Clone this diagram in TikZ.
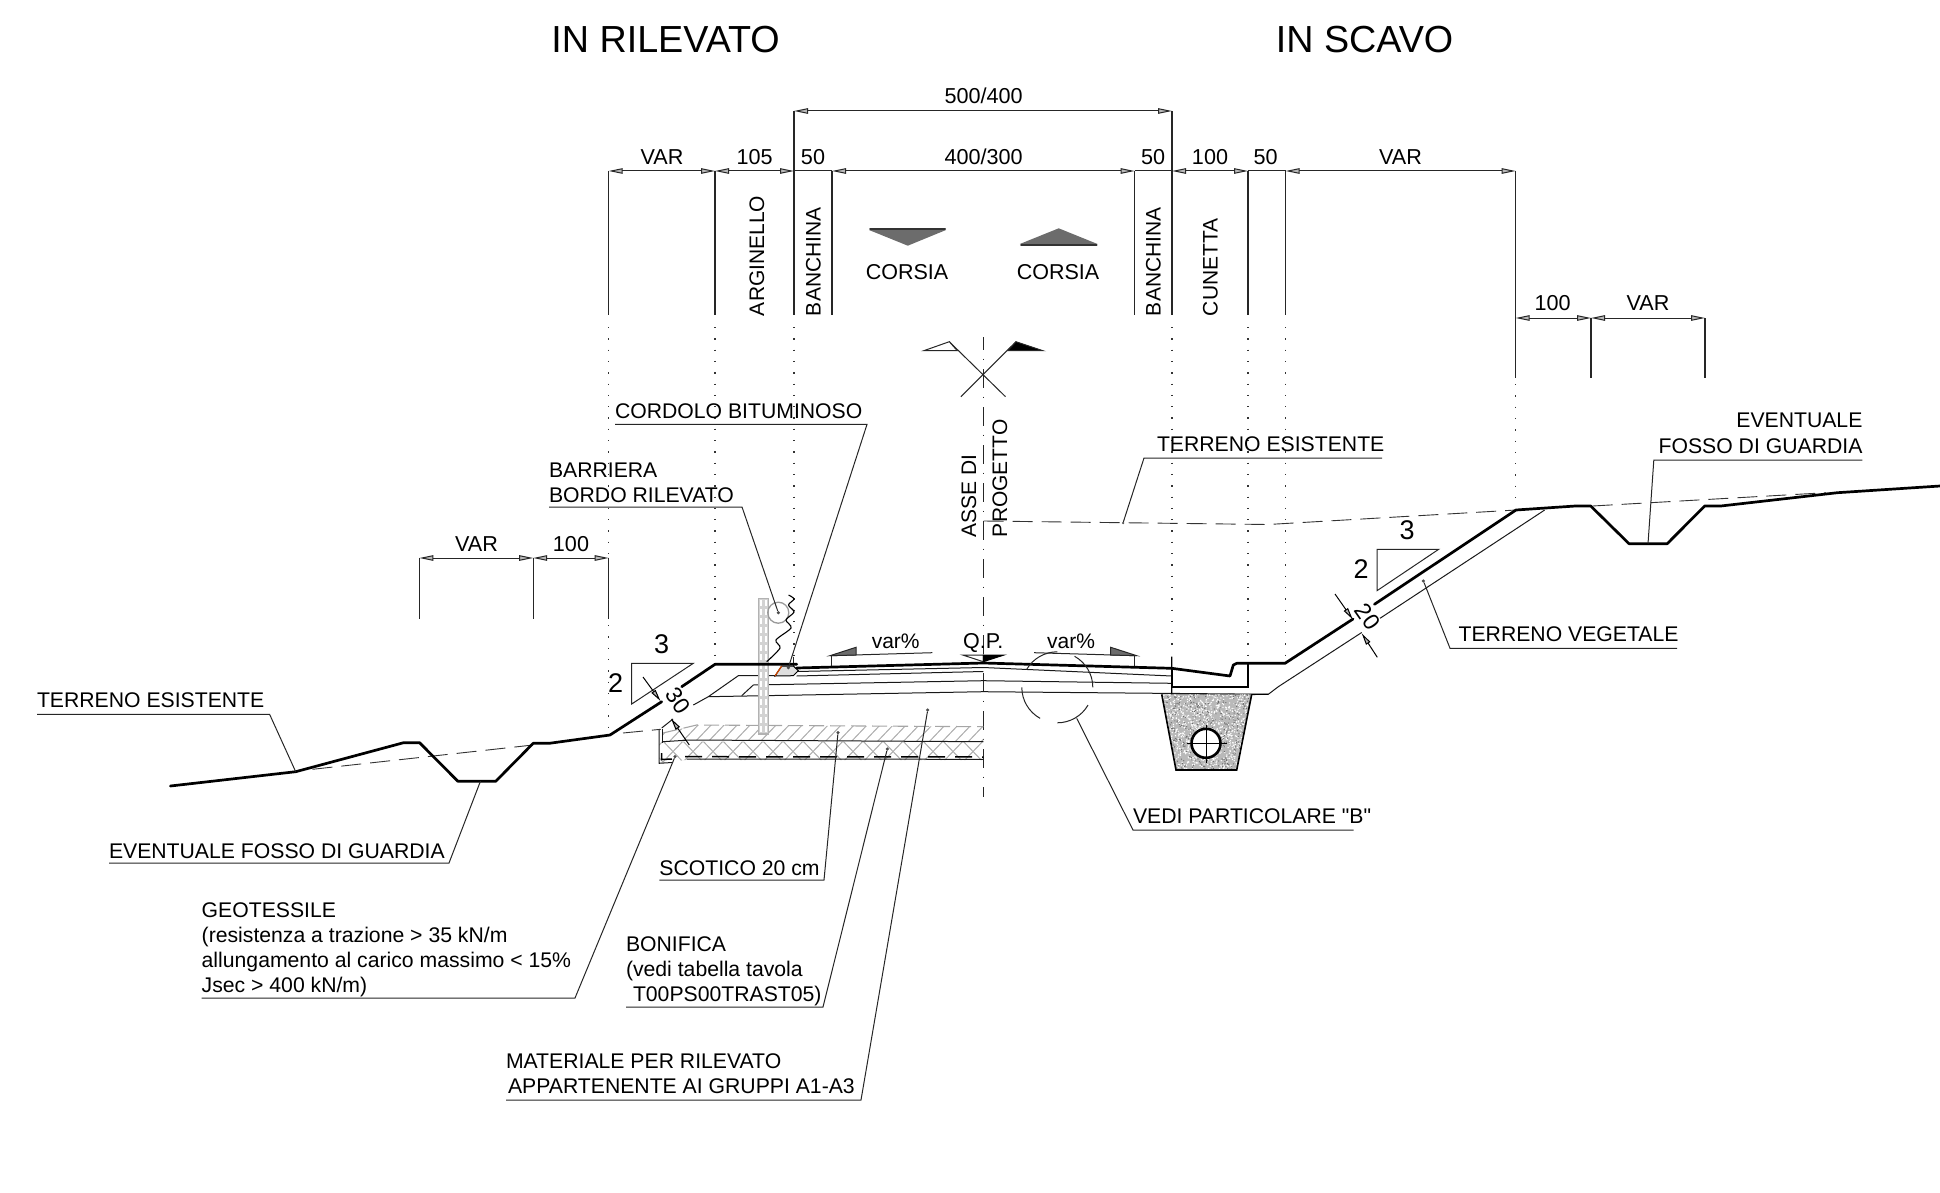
\documentclass[tikz,border=0pt]{standalone}
\usepackage{fontspec}
\setmainfont{Liberation Sans}[Ligatures=TeXOff]
\usetikzlibrary{arrows.meta,calc}
\tikzset{
 every node/.style={inner sep=0pt,outer sep=0pt,font=\fontsize{21}{25}\selectfont},
 thinl/.style={line width=1pt,black!85},
 extl/.style={line width=1.1pt,black!85},
 thickl/.style={line width=2.7pt,line join=round,line cap=round},
 soil/.style={line width=1pt,black!90,line join=round},
 dotl/.style={line width=1.2pt,black!80,dash pattern=on 1.3pt off 10pt},
 exist/.style={line width=.9pt,black!80,dash pattern=on 20pt off 9pt},
 dimtip/.style={{Triangle[length=14pt,width=5.5pt,fill=gray!55]}-{Triangle[length=14pt,width=5.5pt,fill=gray!55]}},
 onetip/.style={-{Triangle[length=12pt,width=5pt,fill=gray!60]}},
 dimline/.style={line width=1pt,black!85,dimtip},
 lab/.style={anchor=base west,font=\fontsize{21.2}{25}\selectfont},
 labr/.style={anchor=base east,font=\fontsize{21.2}{25}\selectfont},
 dimtxt/.style={anchor=base,font=\fontsize{21.6}{25}\selectfont},
 vert/.style={rotate=90,anchor=base west,font=\fontsize{21}{25}\selectfont},
 title/.style={anchor=center,font=\fontsize{37.7}{40}\selectfont},
 big/.style={anchor=center,font=\fontsize{27}{28}\selectfont},
 target/.style={circle,fill=black!70,minimum size=3.5pt},
 hatchl/.style={line width=1pt,gray!65},
}
\begin{document}
\begin{tikzpicture}[x=1pt,y=-1pt]
\useasboundingbox (0,0) rectangle (1940,1193);
% ---------- titles
\node[title] (t1) at (665.6,39.6) {IN RILEVATO};
\node[title] (t2) at (1364.6,39.6) {IN SCAVO};
% ---------- top dimensions
\foreach \n/\x in {a/608.7,b/715,c/794,d/832,e/1134.6,f/1172,g/1248,h/1285.5,i/1515.6}{
  \coordinate (\n) at (\x,171);
  \coordinate (\n b) at (\x,315);
}
\coordinate (ib) at (1515.6,378);
\coordinate (c0) at (794,111);
\coordinate (f0) at (1172,111);
\draw[extl] (c0)--(cb) (f0)--(fb);
\foreach \n in {a,b,e,g,h,i}{\draw[extl] (\n)--(\n b);}
\draw[line width=1.5pt,black!85] (d)--(db);
\draw[dimline] (c0)--(f0);
\draw[dimline] (a)--(b);
\draw[dimline] (b)--(c);
\draw[dimline] (d)--(e);
\draw[dimline] (f)--(g);
\draw[dimline] (h)--(i);
\draw[line width=1pt,black!85] (c)--(d) (e)--(f) (g)--(h);
\node[dimtxt] (n500) at (983.6,104) {500/400};
\node[dimtxt] (nvar1) at (662,165) {VAR};
\node[dimtxt] (n105) at (754.7,165) {105};
\node[dimtxt] (n50a) at (813,165) {50};
\node[dimtxt] (n400) at (983.6,165) {400/300};
\node[dimtxt] (n50b) at (1153,165) {50};
\node[dimtxt] (n100a) at (1210,165) {100};
\node[dimtxt] (n50c) at (1265.6,165) {50};
\node[dimtxt] (nvar2) at (1400.5,165) {VAR};
% vertical zone labels
\node[vert] (vA) at (764,316) {ARGINELLO};
\node[vert] (vB1) at (820.5,316) {BANCHINA};
\node[vert] (vB2) at (1160.5,316) {BANCHINA};
\node[vert] (vC) at (1217.5,316) {CUNETTA};
% corsia
\fill[gray!85!black] (869,230)--(946,230)--(907.8,245.7)--cycle;
\draw[line width=2pt,black!80,line cap=round] (870,229)--(945,229);
\fill[gray!85!black] (1019.8,244)--(1097.5,244)--(1058.7,228.3)--cycle;
\draw[line width=2pt,black!80,line cap=round] (1021,245)--(1096.5,245);
\node[anchor=base,font=\fontsize{21.5}{25}\selectfont] (cs1) at (907,279) {CORSIA};
\node[anchor=base,font=\fontsize{21.5}{25}\selectfont] (cs2) at (1058,279) {CORSIA};
% ---------- right small dimensions
\coordinate (r1) at (1515.6,318);
\coordinate (r2) at (1591,318);
\coordinate (r3) at (1705,318);
\coordinate (r2b) at (1591,378);
\coordinate (r3b) at (1705,378);
\draw[extl] (r2)--(r2b) (r3)--(r3b);
\draw[dimline] (r1)--(r2);
\draw[dimline] (r2)--(r3);
\node[dimtxt] (n100r) at (1552.7,310) {100};
\node[dimtxt] (nvarr) at (1648,310) {VAR};
% ---------- left small dimensions
\coordinate (l1) at (419.4,558);
\coordinate (l2) at (533.2,558);
\coordinate (l3) at (608.7,558);
\coordinate (l1b) at (419.4,619);
\coordinate (l2b) at (533.2,619);
\coordinate (l3b) at (608.7,619);
\draw[extl] (l1)--(l1b) (l2)--(l2b) (l3)--(l3b);
\draw[dimline] (l1)--(l2);
\draw[dimline] (l2)--(l3);
\node[dimtxt] (nvarl) at (476.5,551) {VAR};
\node[dimtxt] (n100l) at (571,551) {100};
% ---------- dotted guides
\draw[dotl] (608.7,327)--(608.7,558) (608.7,625)--(608.7,733);
\draw[dotl] (715,327)--(715,662);
\draw[dotl] (794,327)--(794,660);
\draw[dotl] (1172,327)--(1172,654);
\draw[dotl] (1248,327)--(1248,660);
\draw[dotl] (1285.5,327)--(1285.5,660);
\draw[dotl] (1515.6,384)--(1515.6,508);
% ---------- axis cross
\coordinate (X1) at (960.9,396.7);
\coordinate (X2) at (1016,341.7);
\coordinate (X3) at (1005.5,396.7);
\coordinate (X4) at (949.3,341.7);
\draw[thinl] (X1)--(X2) (X3)--(X4);
\draw[thinl,fill=white] (923.8,350.7)--(X4)--(957.3,350.7)--cycle;
\draw[thinl,fill=black] (X2)--(1043,350.7)--(1007.8,350.7)--cycle;
\coordinate (axT) at (983.3,337);
\coordinate (axB) at (983.3,797);
\draw[line width=1pt,black!85,dash pattern=on 18.5pt off 9.2pt on 1.4pt off 8.9pt,dash phase=6pt] (axT)--(axB);
\node[vert] (ax1) at (976,537.5) {ASSE DI};
\node[vert] (ax2) at (1007,537) {PROGETTO};
% ---------- scotico / bonifica hatch
\begin{scope}
 \clip (663,733)--(696.7,725)--(983.3,726.7)--(983.3,741.7)--(690,740)--(662.7,741.7)--cycle;
 \foreach \x in {640,653,...,990}{\draw[hatchl] (\x,745)--(\x+22,722);}
\end{scope}
\begin{scope}
 \clip (659.3,741.7)--(983.3,741.7)--(983.3,760)--(686,760)--(659.3,763)--cycle;
 \foreach \x in {640,660,...,1000}{
  \draw[hatchl] (\x,765)--(\x+26,738);
  \draw[hatchl] (\x,738)--(\x+26,765);}
\end{scope}
\draw[line width=1.1pt,gray!70,dash pattern=on 15pt off 6pt] (663,733)--(696.7,725)--(983.3,726.7);
\draw[soil] (662.7,741.7)--(690,740)--(983.3,741.7);
\draw[soil] (686.7,759)--(983.3,759.3);
\draw[soil] (659,729)--(659,763.3)--(672,762.5);
\draw[soil] (662.7,729)--(662.7,743.3);
\draw[line width=1.5pt,black] (661.7,753)--(661.7,759.5)--(672,759);
\draw[line width=1.5pt,black,dash pattern=on 17pt off 10pt] (685,756.7)--(983.3,757);
% ---------- road layers
\draw[soil] (661.7,728)--(673,719);
\draw[soil] (693.3,705)--(708.3,696.7)--(983.3,691.7)--(1268.3,694.3)--(1278.3,686.7)--(1361.7,632.5);
\draw[soil] (1380,618.3)--(1544.7,510);
\draw[soil] (708.3,696.7)--(738.3,675.7)--(775,675.5);
\draw[soil] (741.7,695.7)--(753.3,685)--(983.3,680.7)--(1171.7,683.3);
\draw[soil] (796.7,671.5)--(983.3,667.5)--(1171.7,676);
\draw[soil] (796.7,676)--(983.3,671.5);
% existing ground dashed
\draw[exist] (312.5,769.3)--(533,745);
\draw[exist] (623,733)--(660.7,729.3);
\draw[exist] (983.6,521)--(1268,524.5)--(1516,510);
\draw[exist] (1592.6,506)--(1826,492.7);
% ---------- cunetta
\draw[line width=1.2pt] (1171.7,656.7)--(1171.7,695)--(1268.3,694.3);
\draw[line width=2.2pt] (1171.7,668)--(1171.7,686.7)--(1248.3,686.7)--(1248.3,663.3);
% ---------- trench
\begin{scope}
 \clip (1161.7,694.3)--(1251.7,694.3)--(1236.7,770)--(1176,770)--cycle;
 \fill[gray!55] (1150,690) rectangle (1260,775);
 \pgfmathsetseed{11}
 \foreach \i in {1,...,1100}{
  \pgfmathsetmacro\px{1160+rnd*93}
  \pgfmathsetmacro\py{694+rnd*77}
  \fill[white] (\px,\py) circle[radius=.75pt];}
 \foreach \i in {1,...,500}{
  \pgfmathsetmacro\px{1160+rnd*93}
  \pgfmathsetmacro\py{694+rnd*77}
  \fill[black!60] (\px,\py) circle[radius=.6pt];}
\end{scope}
\draw[line width=1.6pt] (1161.7,694.3)--(1176,770)--(1236.7,770)--(1251.7,694.3);
\node[draw,circle,line width=2.6pt,fill=white,minimum size=29pt] (pipe) at (1206,743.3) {};
\draw[line width=.9pt] (1186.7,743.3)--(1226.7,743.3) (1206,725)--(1206,763);
% ---------- barrier
\draw[line width=1.2pt,gray!60,fill=gray!35] (758.3,598.3) rectangle (768.3,734);
\draw[line width=1.4pt,white,dash pattern=on 6pt off 3pt] (761,600)--(761,733) (765.8,600)--(765.8,733);
\node[draw=gray!80,line width=1.3pt,circle,minimum size=21pt] (rail) at (778.3,612.7) {};
\draw[line width=1.1pt,black] plot[smooth] coordinates {(788.5,595)(794,599)(788.5,605)(794,612)(786,620)(791,628)(776,640)(780,648)(766.7,661.7)};
% ---------- cordolo
\draw[line width=1pt,fill=gray!25] (775,676)--(781.7,666)--(793.3,666)--(798.3,670.7)--(793.3,675.7)--cycle;
\draw[line width=1.2pt,orange!70!red!80!black] (775,676)--(781.7,666);
\draw[thinl] (793.3,656.7)--(793.3,666);
% ---------- thick ground
\draw[thickl] (170.4,786)--(295.7,771.7)--(403.6,742.7)--(419.6,742.7)--(457.9,781.3)--(495.7,781.3)--(533.2,743.3)--(549.3,743.3)--(610,735)--(661.7,701.7);
\draw[thickl] (681.7,686.7)--(715,664.3)--(796.7,664.3);
\draw[thickl] (796.7,668)--(983.3,663)--(1171.7,668.3)--(1230,676)--(1233.3,665)--(1236.7,663.3)--(1285,663.3)--(1353,619);
\draw[thickl] (1374.4,604.3)--(1516,510)--(1575.4,506)--(1590.7,506)--(1629,543.7)--(1667.2,543.7)--(1704.7,506)--(1720.8,506)--(1837.5,492.7)--(1940,486);
% ---------- slope triangles
\draw[thinl] (631.7,663.3)--(693.3,663.3)--(631.7,704)--cycle;
\node[big] (s3l) at (661.7,644) {3};
\node[big] (s2l) at (615.7,682.7) {2};
\draw[thinl] (1377,549.3)--(1438.7,549.3)--(1377,590.7)--cycle;
\node[big] (s3r) at (1407,530.7) {3};
\node[big] (s2r) at (1361,569.3) {2};
% ---------- thickness dims
\coordinate (p30a) at (643,677);
\coordinate (p30b) at (660.5,701);
\coordinate (p30c) at (689.3,745);
\coordinate (p30d) at (671,718.5);
\draw[line width=1pt,onetip] (p30a)--(p30b);
\draw[line width=1pt,onetip] (p30c)--(p30d);
\node[rotate=-55,font=\fontsize{23}{25}\selectfont] (n30) at (678.3,700.5) {30};
\coordinate (p20a) at (1335,594);
\coordinate (p20b) at (1352.7,619.3);
\coordinate (p20c) at (1377.3,657.3);
\coordinate (p20d) at (1361.7,633.3);
\draw[line width=1pt,onetip] (p20a)--(p20b);
\draw[line width=1pt,onetip] (p20c)--(p20d);
\node[rotate=-55,font=\fontsize{23}{25}\selectfont] (n20) at (1367.5,616.7) {20};
% ---------- var% symbols
\draw[thinl] (830,655.7)--(932.3,652.7);
\draw[thinl,fill=gray!85!black] (830,655.7)--(856,647.3)--(856,655)--cycle;
\draw[thinl] (831.7,655.7)--(831.7,666);
\node[anchor=base,font=\fontsize{21}{25}\selectfont] (v1) at (895.7,648) {var\%};
\draw[thinl] (1034,652.7)--(1136.7,655.7);
\draw[thinl,fill=gray!85!black] (1110.7,647.3)--(1136.7,655.7)--(1110.7,655)--cycle;
\draw[thinl] (1134.3,655.7)--(1134.3,666);
\node[anchor=base,font=\fontsize{21}{25}\selectfont] (v2) at (1071,648) {var\%};
% Q.P.
\node[anchor=base,font=\fontsize{21.5}{25}\selectfont] (qp) at (983.3,648) {Q.P.};
\draw[thinl,fill=white] (962.7,655)--(983.3,661.7)--(983.3,655)--cycle;
\draw[line width=1pt,fill=black] (983.3,655)--(1004,655)--(983.3,661.7)--cycle;
% ---------- particolare B circle
\coordinate (cB) at (1057.3,687.3);
\draw[thinl] (cB) ++(150:35.5pt) arc[start angle=150,end angle=90,radius=35.5pt];
\draw[thinl] (cB) ++(61:35.5pt) arc[start angle=61,end angle=0,radius=35.5pt];
\draw[thinl] (cB) ++(-30:35.5pt) arc[start angle=-30,end angle=-90,radius=35.5pt];
\draw[thinl] (cB) ++(-119:35.5pt) arc[start angle=-119,end angle=-180,radius=35.5pt];
% ---------- leaders and labels
\node[lab] (L1) at (37,707.5) {TERRENO ESISTENTE};
\coordinate (L1a) at (37,714.3); \coordinate (L1b) at (269.6,714.3); \coordinate (L1c) at (295.7,771.7);
\draw[thinl] (L1a)--(L1b)--(L1c);

\node[lab] (L2) at (109,858) {EVENTUALE FOSSO DI GUARDIA};
\coordinate (L2a) at (109,863); \coordinate (L2b) at (449,863); \coordinate (L2c) at (480.4,781.3);
\draw[thinl] (L2a)--(L2b)--(L2c);

\node[lab] (L3a) at (201.7,917) {GEOTESSILE};
\node[lab] (L3b) at (201.7,942) {(resistenza a trazione > 35 kN/m};
\node[lab] (L3c) at (201.7,967.5) {allungamento al carico massimo < 15\%};
\node[lab] (L3d) at (201.7,992.5) {Jsec > 400 kN/m)};
\coordinate (L3e) at (201.7,998); \coordinate (L3f) at (575,998); \node[target] (L3g) at (675,756.7) {};
\draw[thinl] (L3e)--(L3f)--(L3g);

\node[lab] (L4) at (659.4,875) {SCOTICO 20 cm};
\coordinate (L4a) at (659.4,880); \coordinate (L4b) at (824,880); \node[target] (L4c) at (838,732.7) {};
\draw[thinl] (L4a)--(L4b)--(L4c);

\node[lab] (L5a) at (626,951.5) {BONIFICA};
\node[lab] (L5b) at (626,976.5) {(vedi tabella tavola};
\node[lab] (L5c) at (633,1001.5) {T00PS00TRAST05)};
\coordinate (L5d) at (626,1007); \coordinate (L5e) at (823,1007); \node[target] (L5f) at (887.3,749) {};
\draw[thinl] (L5d)--(L5e)--(L5f);

\node[lab] (L6a) at (506,1068) {MATERIALE PER RILEVATO};
\node[lab] (L6b) at (508,1093.5) {APPARTENENTE AI GRUPPI A1-A3};
\coordinate (L6c) at (506,1100); \coordinate (L6d) at (861,1100); \node[target] (L6e) at (927.7,710) {};
\draw[thinl] (L6c)--(L6d)--(L6e);

\node[lab] (L7) at (1133,823.5) {VEDI PARTICOLARE "B"};
\coordinate (L7a) at (1133,830); \coordinate (L7b) at (1353.5,830); \coordinate (L7c) at (1076.7,718.3);
\draw[thinl] (L7b)--(L7a)--(L7c);

\node[lab] (L8) at (1157,451.5) {TERRENO ESISTENTE};
\coordinate (L8a) at (1382,458); \coordinate (L8b) at (1144,458); \node[target,minimum size=2.5pt] (L8c) at (1123,523) {};
\draw[thinl] (L8a)--(L8b)--(L8c);

\node[labr] (L9a) at (1862.4,427) {EVENTUALE};
\node[labr] (L9b) at (1862.4,453) {FOSSO DI GUARDIA};
\coordinate (L9c) at (1862.4,460); \coordinate (L9d) at (1653.8,460); \coordinate (L9e) at (1648,543.7);
\draw[thinl] (L9c)--(L9d)--(L9e);

\node[lab] (L10) at (1458.6,641) {TERRENO VEGETALE};
\coordinate (L10a) at (1677,648.3); \coordinate (L10b) at (1450,648.3); \node[target] (L10c) at (1423.4,581) {};
\draw[thinl] (L10a)--(L10b)--(L10c);

\node[lab] (L11) at (615,418) {CORDOLO BITUMINOSO};
\coordinate (L11a) at (615,424.4); \coordinate (L11b) at (867,424.4); \node[target] (L11c) at (788.3,667.7) {};
\draw[thinl] (L11a)--(L11b)--(L11c);

\node[lab] (L12a) at (549,477) {BARRIERA};
\node[lab] (L12b) at (549,502) {BORDO RILEVATO};
\coordinate (L12c) at (549,507); \coordinate (L12d) at (742,507); \node[target] (L12e) at (778.3,612.7) {};
\draw[thinl] (L12c)--(L12d)--(L12e);
\end{tikzpicture}
\end{document}
